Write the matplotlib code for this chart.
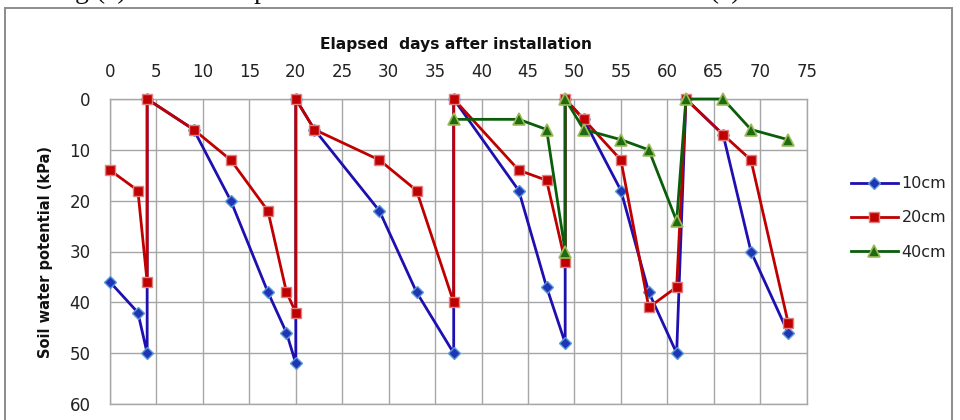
import matplotlib
matplotlib.use("Agg")
import matplotlib.pyplot as plt
from matplotlib.patches import Rectangle
from matplotlib.lines import Line2D

# ---- data ----
days_10 = [0, 3, 4, 4, 9, 13, 17, 19, 20, 20, 22, 29, 33, 37, 37, 44, 47, 49, 49, 51, 55, 58, 61, 62, 66, 69, 73]
swp_10 = [36, 42, 50, 0, 6, 20, 38, 46, 52, 0, 6, 22, 38, 50, 0, 18, 37, 48, 0, 4, 18, 38, 50, 0, 7, 30, 46]

days_20 = [0, 3, 4, 4, 9, 13, 17, 19, 20, 20, 22, 29, 33, 37, 37, 44, 47, 49, 49, 51, 55, 58, 61, 62, 66, 69, 73]
swp_20 = [14, 18, 36, 0, 6, 12, 22, 38, 42, 0, 6, 12, 18, 40, 0, 14, 16, 32, 0, 4, 12, 41, 37, 0, 7, 12, 44]

days_40 = [37, 44, 47, 49, 49, 51, 55, 58, 61, 62, 66, 69, 73]
swp_40 = [4, 4, 6, 30, 0, 6, 8, 10, 24, 0, 0, 6, 8]

series_labels = ["10cm", "20cm", "40cm"]
x_ticks = list(range(0, 80, 5))
y_ticks = list(range(0, 70, 10))

caption = "g (c) Soil water potential and elevation of the sawn floor (?)."
x_title = "Elapsed  days after installation"
y_title = "Soil water potential (kPa)"

# ---- figure ----
W, H = 960, 420
fig = plt.figure(figsize=(W / 100, H / 100), dpi=100)

def fx(px):
    return px / W

def fy(py):
    return 1 - py / H

# outer frame
fig.patches.append(Rectangle((fx(5), fy(430)), fx(952) - fx(5), fy(8) - fy(430),
                             transform=fig.transFigure, fill=False,
                             edgecolor="#8c8c8c", linewidth=1.4, zorder=0))

# caption of the page, cut off at the top edge as in the source
fig.text(fx(75), fy(-1.5), caption, ha="left", va="baseline",
         fontsize=20, family="Liberation Serif", color="#111111")

ax = fig.add_axes([fx(110), fy(404), fx(806.7) - fx(110), fy(99) - fy(404)])

styles = [
    dict(color="#1E10B0", marker="D", markersize=6, markerfacecolor="#1F35B5",
         markeredgecolor="#5B9BD5", markeredgewidth=1.0),
    dict(color="#C00000", marker="s", markersize=7.5, markerfacecolor="#C00000",
         markeredgecolor="#E08080", markeredgewidth=1.0),
    dict(color="#0A5E0A", marker="^", markersize=8, markerfacecolor="#1E6B12",
         markeredgecolor="#9BBB59", markeredgewidth=1.2),
]
data = [(days_10, swp_10), (days_20, swp_20), (days_40, swp_40)]
for (xs, ys), st, lab in zip(data, styles, series_labels):
    ax.plot(xs, ys, linewidth=2.0, label=lab, clip_on=False, zorder=3, **st)

ax.set_xlim(0, 75)
ax.set_ylim(60, 0)
ax.set_xticks(x_ticks)
ax.set_yticks(y_ticks)
ax.xaxis.tick_top()
ax.grid(True, color="#a6a6a6", linewidth=1.0, zorder=0)
ax.set_axisbelow(True)
for s in ax.spines.values():
    s.set_color("#a6a6a6")
    s.set_linewidth(1.0)
ax.tick_params(axis="both", length=0, labelsize=12, colors="#222222")
ax.tick_params(axis="x", pad=13)
ax.tick_params(axis="y", pad=14)

fig.text(fx(456), fy(45), x_title, ha="center", va="center",
         fontsize=11.2, fontweight="bold", color="#111111")
fig.text(fx(46), fy(252), y_title, ha="center", va="center", rotation=90,
         fontsize=10.5, fontweight="bold", color="#111111")

handles = [Line2D([0], [0], linewidth=2.0, **st) for st in styles]
leg = fig.legend(handles, series_labels, loc="upper left",
                 bbox_to_anchor=(fx(840), fy(165)), frameon=False,
                 fontsize=11.5, handlelength=2.9, labelspacing=1.2,
                 handletextpad=0.25, borderpad=0.2)
for t in leg.get_texts():
    t.set_color("#222222")

fig.savefig("out.png", dpi=100)
